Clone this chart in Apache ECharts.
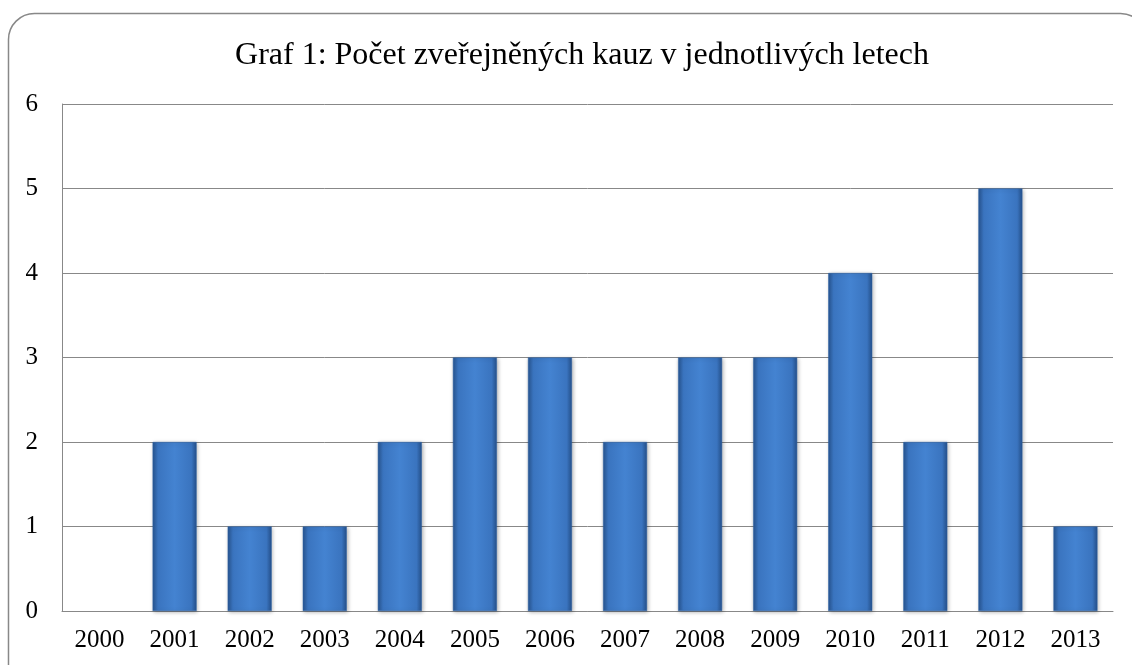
<!DOCTYPE html>
<html>
<head>
<meta charset="utf-8">
<script src="https://cdn.jsdelivr.net/npm/echarts@6/dist/echarts.min.js"></script>
</head>
<body style="margin:0;background:#fff">
<div id="main" style="width:1132px;height:665px"></div>
<script>
var years = ['2000', '2001', '2002', '2003', '2004', '2005', '2006', '2007', '2008', '2009', '2010', '2011', '2012', '2013'];
var counts = [0, 2, 1, 1, 2, 3, 3, 2, 3, 3, 4, 2, 5, 1];
var yTicks = [0, 1, 2, 3, 4, 5, 6];

var chart = echarts.init(document.getElementById('main'));
var serif = '"Liberation Serif", "DejaVu Serif", serif';

var barFill = new echarts.graphic.LinearGradient(0, 0, 1, 0, [
  { offset: 0, color: '#27548f' },
  { offset: 0.12, color: '#3a74bf' },
  { offset: 0.5, color: '#4483d1' },
  { offset: 0.88, color: '#3a74bf' },
  { offset: 1, color: '#25508a' }
]);

// empty years draw nothing (no flat line)
var barData = counts.map(function (v) {
  return v === 0 ? { value: v, itemStyle: { opacity: 0 } } : v;
});

chart.setOption({
  animation: false,
  title: {
    text: 'Graf 1: Počet zveřejněných kauz v jednotlivých letech',
    left: 577,
    textAlign: 'center',
    top: 35,
    textStyle: { fontFamily: serif, fontSize: 32, fontWeight: 'normal', color: '#000' }
  },
  graphic: [{
    type: 'rect',
    shape: { x: 8.5, y: 13.5, width: 1138, height: 700, r: 26 },
    style: { fill: 'none', stroke: '#888', lineWidth: 1.5 }
  }],
  grid: { left: 62, right: 19, top: 104, bottom: 54 },
  xAxis: {
    type: 'category',
    data: years,
    axisLine: { lineStyle: { color: '#888' } },
    axisTick: { show: false },
    axisLabel: { fontFamily: serif, fontSize: 25, color: '#000', margin: 17 }
  },
  yAxis: {
    type: 'value',
    min: yTicks[0],
    max: yTicks[yTicks.length - 1],
    interval: 1,
    axisLine: { show: true, lineStyle: { color: '#888' } },
    axisTick: { show: false },
    splitLine: { lineStyle: { color: '#888', width: 1 } },
    axisLabel: { fontFamily: serif, fontSize: 25, color: '#000', margin: 24 }
  },
  series: [{
    type: 'bar',
    data: barData,
    barWidth: 44,
    itemStyle: {
      color: barFill,
      borderColor: '#2f64a8',
      borderWidth: 0.5,
      shadowColor: 'rgba(0,0,0,0.3)',
      shadowBlur: 4,
      shadowOffsetX: 1,
      shadowOffsetY: 1
    }
  }]
});
</script>
</body>
</html>
